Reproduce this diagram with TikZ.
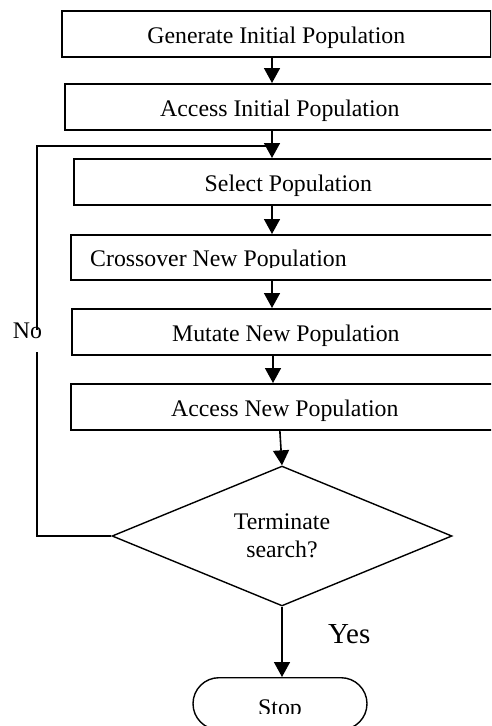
\documentclass[tikz,border=0pt]{standalone}
\usepackage{fontspec}
\setmainfont{Liberation Serif}
\usetikzlibrary{arrows.meta,shapes.geometric}
\begin{document}
\begin{tikzpicture}[x=1pt,y=-1pt,
  txt/.style={font=\fontsize{23.8}{27.7}\selectfont},
  procbox/.style={draw, line width=1.7pt, rectangle, inner xsep=0pt, inner ysep=0pt,
     text height=33pt, text depth=13pt, anchor=north west, txt},
  arr/.style={line width=1.6pt, -{Triangle[width=16pt,length=15pt]}},
  fb/.style={line width=1.2pt},
  decision/.style={draw, diamond, line width=1.4pt, inner sep=0pt,
     minimum width=340pt, minimum height=138pt, align=center, txt},
  stopbox/.style={draw, line width=1.4pt, rectangle, rounded corners=26pt,
     minimum width=174pt, minimum height=52pt, anchor=north}
]
\useasboundingbox (0,0) rectangle (491,726);
\clip (0,0) rectangle (491,726);

\coordinate (ax) at (272,0);

\node[procbox, minimum width=429pt] (gen) at (61,10) {Generate Initial Population};
\node[procbox, minimum width=430pt] (acc1) at (64,83) {Access Initial Population};
\node[procbox, minimum width=429pt] (sel) at (73,158) {Select Population};
\node[draw, line width=1.7pt, rectangle, inner sep=0pt, minimum width=430pt,
      minimum height=45pt, anchor=north west] (cross) at (70,234) {};
\begin{scope}
  \clip (70,234) rectangle (491,267);
  \node[txt, anchor=base west, inner sep=0pt] (crosstxt) at (90,266) {Crossover New Population};
\end{scope}
\node[procbox, minimum width=428pt] (mut) at (71,308) {Mutate New Population};
\node[procbox, minimum width=428pt] (acc2) at (70,383) {Access New Population};

\node[decision] (dia) at (282,536) {Terminate\\search?};

\node[stopbox] (stop) at (280,677) {};
\begin{scope}
  \clip (150,677) rectangle (420,713);
  \node[txt, anchor=base, inner sep=0pt] (stoptxt) at (280,715) {Stop};
\end{scope}

\node[font=\fontsize{29}{34}\selectfont, anchor=base west, inner sep=0pt] (yes) at (328,643) {Yes};
\node[txt, anchor=base, inner sep=0pt] (no) at (27.5,338) {No};

\draw[arr] (gen.south -| ax) -- (acc1.north -| ax);
\draw[arr] (acc1.south -| ax) -- (sel.north -| ax);
\draw[arr] (sel.south -| ax) -- (cross.north -| ax);
\draw[arr] (cross.south -| ax) -- (mut.north -| ax);
\draw[arr] ([xshift=1pt]mut.south -| ax) -- ([xshift=1pt]acc2.north -| ax);
\draw[arr] ([xshift=-5pt]acc2.south) -- (dia.north);
\draw[arr] (dia.south) -- (stop.north -| dia.south);

\coordinate (fbtop) at (272,146);
\coordinate (nogapA) at (37,330);
\coordinate (nogapB) at (37,352);
\draw[fb] (dia.west) -| (nogapB);
\draw[fb] (nogapA) |- (fbtop);
\end{tikzpicture}
\end{document}
